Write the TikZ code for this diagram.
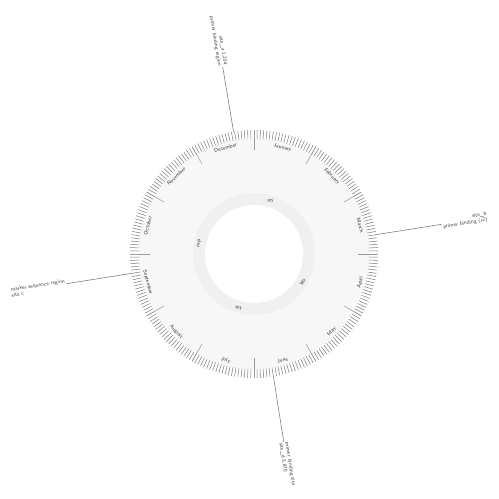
\documentclass[tikz,border=0pt]{standalone}
\usetikzlibrary{positioning,calc}

\begin{document}
\begin{tikzpicture}[
    x=0.02cm, y=0.02cm,
    font=\sffamily\fontsize{3}{3.4}\selectfont,
    minortick/.style={draw=black!50, line width=0.3pt},
    majortick/.style={draw=black!40, line width=0.3pt},
    seclabel/.style={text=black!80, inner sep=0.5pt},
    featlabel/.style={text=black!80, inner sep=0.5pt},
    anno/.style={text=black!75, inner sep=0.5pt, align=left},
    lead/.style={draw=black!55, line width=0.3pt}
]
\useasboundingbox[fill=white] (-254,-245) rectangle (245,254);
% background disk and inner band
\fill[black!3] (0,0) circle (115);
\fill[black!6] (0,0) circle (61);
\fill[white] (0,0) circle (49);
% tick ring
\foreach \a in {0,1.5,...,358.5}
    \draw[minortick] (\a:115) -- (\a:124);
\foreach \a in {0,30,...,330}
    \draw[majortick] (\a:104) -- (\a:124);
% sector labels
\foreach \a/\txt [count=\i] in {15/March, 45/February, 75/January, 105/December, 135/November, 165/October}
    \node[seclabel, rotate=\a-90] (s\i) at (\a:110) {\txt};
\foreach \a/\txt [count=\i from 7] in {195/September, 225/August, 255/July, 285/June, 315/May, 345/April}
    \node[seclabel, rotate=\a+90] (s\i) at (\a:110) {\txt};
% features on the inner band
\node[featlabel, rotate=-17] (f1) at (73:56) {ori};
\node[featlabel, rotate=79] (f2) at (169:56) {rep};
\node[featlabel, rotate=344] (f3) at (254:56) {tet};
\node[featlabel, rotate=60] (f4) at (330:56) {bla};
% annotations
\coordinate (c1) at (99.5:124);
\coordinate (c2) at (9:124);
\coordinate (c3) at (189:124);
\coordinate (c4) at (279:124);
\node[anno, rotate=-80.5, anchor=east, align=right] (a1) at (99.5:190) {site\_a 1,204\\primer binding region};
\node[anno, rotate=9, anchor=west, align=right] (a2) at (9:190) {site\_b\\primer binding (r2)};
\node[anno, rotate=9, anchor=east] (a3) at (189:190) {marker sequence region\\site c};
\node[anno, rotate=-81, anchor=west] (a4) at (279:190) {primer binding site\\site\_d 3,870};
\draw[lead] (c1) -- (a1.east);
\draw[lead] (c2) -- (a2.west);
\draw[lead] (c3) -- (a3.east);
\draw[lead] (c4) -- (a4.west);
\end{tikzpicture}
\end{document}
